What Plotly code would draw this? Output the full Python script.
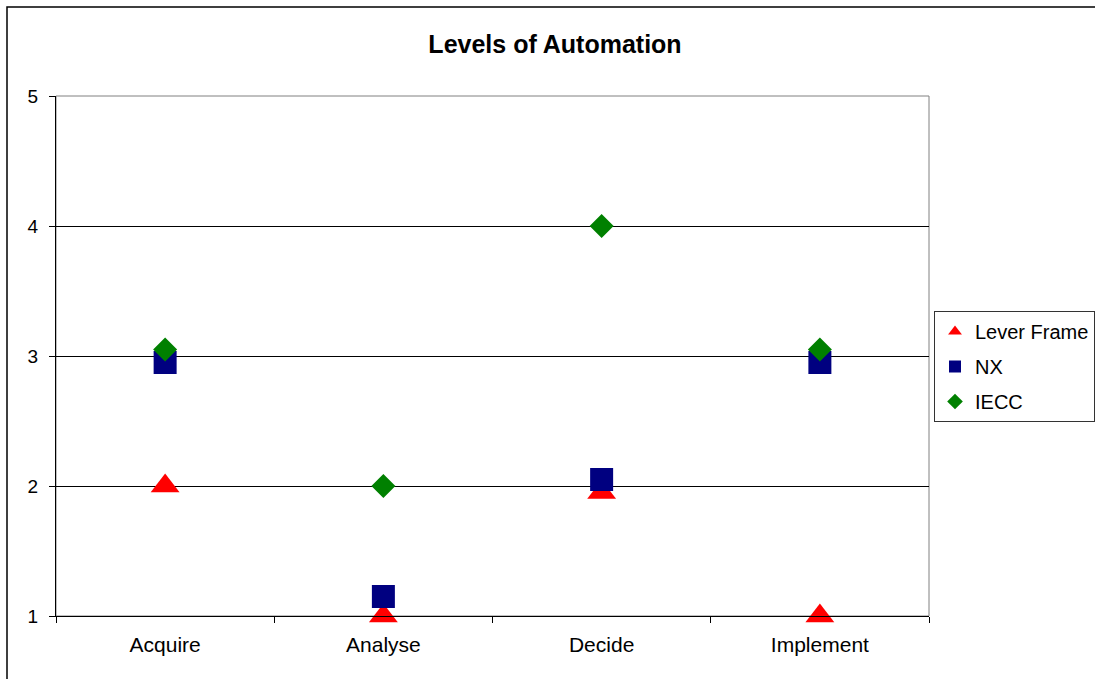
import plotly.graph_objects as go

categories = ["Acquire", "Analyse", "Decide", "Implement"]
lever_frame = [2.0, 1.0, 1.95, 1.0]
nx = [2.95, 1.15, 2.05, 2.95]
iecc = [3.05, 2.0, 4.0, 3.05]
y_ticks = [1, 2, 3, 4, 5]

W, H = 1095, 679
L, R, T, B = 56, 929, 96, 616
pw, ph = R - L, B - T

fig = go.Figure()
fig.add_trace(go.Scatter(x=categories, y=lever_frame, mode="markers", name="Lever Frame",
                         legendgroup="a", cliponaxis=False,
                         marker=dict(symbol="triangle-up", size=25, color="#FF0000")))
fig.add_trace(go.Scatter(x=categories, y=nx, mode="markers", name="NX",
                         legendgroup="b", cliponaxis=False,
                         marker=dict(symbol="square", size=23, color="#000080")))
fig.add_trace(go.Scatter(x=categories, y=iecc, mode="markers", name="IECC",
                         legendgroup="c", cliponaxis=False,
                         marker=dict(symbol="diamond", size=18.5, color="#008000")))

shapes = [
    # outer chart frame (extends beyond the picture on right/bottom)
    dict(type="rect", xref="paper", yref="paper",
         x0=(7 - L) / pw, x1=1.5, y0=-0.5, y1=1 + (T - 7) / ph,
         line=dict(color="black", width=1.5), fillcolor="rgba(0,0,0,0)", layer="below"),
    # plot area border
    dict(type="rect", xref="paper", yref="paper", x0=0, x1=1, y0=0, y1=1,
         line=dict(color="#808080", width=1), fillcolor="rgba(0,0,0,0)", layer="below"),
]

fig.update_layout(
    width=W, height=H,
    margin=dict(l=L, r=W - R, t=T, b=H - B, pad=0, autoexpand=False),
    paper_bgcolor="white", plot_bgcolor="white",
    font=dict(family="Liberation Sans, Arial, sans-serif", color="black", size=18),
    title=dict(text="<b>Levels of Automation</b>", x=555 / W, xref="container", xanchor="center",
               y=1 - 44 / H, yref="container", yanchor="middle",
               font=dict(size=25, color="black", family="Liberation Sans, Arial, sans-serif")),
    showlegend=True,
    legend=dict(x=(934 - L) / pw, xanchor="left", y=(B - 311) / ph, yanchor="top",
                bordercolor="#333333", borderwidth=1, bgcolor="white",
                font=dict(size=20, color="black"), traceorder="grouped", tracegroupgap=6,
                itemsizing="constant"),
    shapes=shapes,
)
fig.update_xaxes(type="category", categoryorder="array", categoryarray=categories,
                 range=[-0.5, 3.5], showgrid=False, zeroline=False,
                 showline=True, linecolor="black", linewidth=1,
                 ticks="outside", tickson="boundaries", ticklen=6, tickcolor="black",
                 tickfont=dict(size=21), ticklabelstandoff=10)
fig.update_yaxes(range=[1, 5], tickmode="array", tickvals=y_ticks,
                 showgrid=True, gridcolor="black", gridwidth=1, zeroline=False,
                 showline=True, linecolor="black", linewidth=1,
                 ticks="outside", ticklen=6, tickcolor="black",
                 tickfont=dict(size=19), ticklabelstandoff=7)

fig.write_html("out.html", config={"displayModeBar": False},
               post_script="document.body.style.margin='0';")
